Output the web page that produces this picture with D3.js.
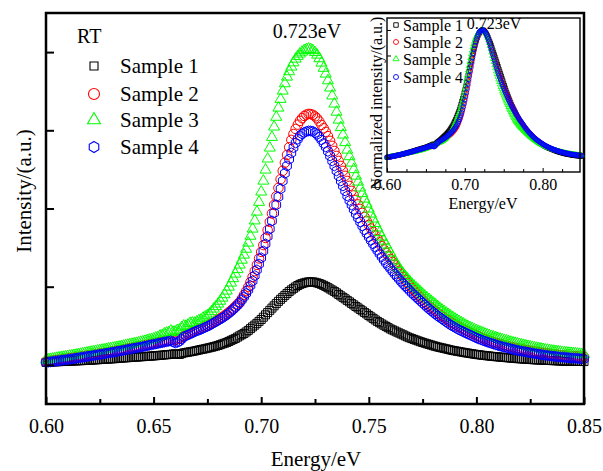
<!DOCTYPE html>
<html><head><meta charset="utf-8">
<script src="https://cdn.jsdelivr.net/npm/d3@7"></script>
<style>
body{margin:0;background:#fff}
svg{display:block}
text{font-family:"Liberation Serif","Times New Roman",serif;fill:#000}
</style>
</head><body>
<svg id="chart" width="603" height="471"></svg>
<script>
// ---------- data ----------
const energyStart = 0.600, energyStep = 0.001, nPoints = 251;
const energies = d3.range(nPoints).map(i => +(energyStart + i * energyStep).toFixed(3));

const sample1 = [2.6,2.7,2.8,3.0,3.1,3.2,3.3,3.4,3.5,3.6,
3.7,3.8,3.9,4.0,4.1,4.2,4.3,4.4,4.5,4.6,
4.7,4.85,5.0,5.15,5.3,5.45,5.6,5.75,5.9,6.0,
6.1,6.25,6.4,6.6,6.8,6.95,7.1,7.25,7.4,7.55,
7.7,7.85,8.0,8.15,8.3,8.45,8.6,8.75,8.9,9.05,
9.2,9.4,9.6,9.8,10.0,10.2,10.4,10.6,10.8,11.1,
11.3,11.0,10.7,11.5,12.3,12.6,13.0,13.4,13.8,14.2,
14.7,15.2,15.7,16.1,16.6,17.1,17.6,18.1,18.7,19.3,
19.9,20.7,21.5,22.2,23.0,24.0,25.1,26.1,27.1,28.4,
29.7,30.9,32.2,33.7,35.3,37.1,38.9,40.7,42.5,44.5,
46.5,48.8,51.2,53.5,55.8,58.1,60.4,62.7,65.0,67.1,
69.1,71.1,73.1,75.0,76.7,78.3,79.8,81.2,82.4,83.2,
83.9,84.5,84.9,85.0,84.9,84.5,83.9,83.2,82.4,81.4,
80.3,79.0,77.7,76.5,75.2,73.7,72.1,70.6,69.1,67.6,
66.0,64.5,62.9,61.4,59.8,58.3,56.8,55.3,53.7,52.2,
50.6,49.1,47.6,46.0,44.5,43.2,41.9,40.6,39.4,38.1,
36.8,35.8,34.8,33.7,32.7,31.7,30.7,29.6,28.6,27.7,
26.9,26.1,25.3,24.5,23.7,23.0,22.3,21.6,21.0,20.3,
19.6,19.0,18.4,17.9,17.4,16.9,16.4,15.8,15.3,14.8,
14.4,14.0,13.6,13.2,12.8,12.4,12.1,11.7,11.4,11.0,
10.7,10.4,10.1,9.8,9.6,9.3,9.1,8.8,8.6,8.4,
8.2,8.0,7.8,7.6,7.4,7.2,7.0,6.8,6.6,6.4,
6.3,6.1,6.0,5.8,5.7,5.5,5.4,5.2,5.1,5.0,
4.9,4.8,4.7,4.6,4.5,4.4,4.3,4.2,4.1,4.0,
3.9,3.85,3.8,3.75,3.7,3.65,3.6,3.55,3.5,3.45,
3.4];

const sample2 = [3.6,3.85,4.1,4.4,4.7,5.0,5.3,5.6,5.9,6.2,
6.5,6.8,7.1,7.45,7.8,8.15,8.5,8.85,9.2,9.55,
9.9,10.25,10.6,10.95,11.3,11.65,12.0,12.4,12.8,13.15,
13.5,13.9,14.3,14.7,15.1,15.5,15.9,16.35,16.8,17.2,
17.6,18.0,18.4,18.8,19.2,19.65,20.1,20.6,21.1,21.55,
22.0,22.45,22.9,23.35,23.8,24.25,24.7,25.15,25.6,25.6,
25.5,26.2,27.0,28.3,29.6,30.6,31.7,32.7,33.7,34.8,
35.8,36.5,37.3,38.3,39.4,40.4,41.4,42.7,44.0,45.2,
46.5,47.8,49.1,50.6,52.2,53.9,55.7,57.7,59.8,62.0,
64.4,67.8,71.6,75.5,79.8,84.7,90.0,95.9,102.3,108.9,
115.6,122.6,129.9,137.9,146.3,154.9,163.7,172.4,181.1,189.9,
198.5,206.8,214.8,222.7,230.2,236.2,241.4,245.8,249.6,252.4,
254.7,256.0,256.8,256.6,255.8,254.2,252.2,249.1,245.5,242.1,
238.4,234.0,229.2,224.1,218.9,213.8,208.7,203.6,198.5,193.4,
188.2,183.1,178.0,173.4,168.8,164.2,159.6,155.5,151.4,147.3,
143.2,139.6,136.1,132.5,128.9,125.3,121.7,118.1,114.6,111.5,
108.4,105.3,102.3,99.2,96.2,93.1,90.0,86.9,83.9,81.3,
78.8,76.2,73.7,71.4,69.1,66.7,64.4,62.4,60.4,58.6,
56.8,55.0,53.2,51.6,50.1,48.6,47.1,45.5,44.0,42.7,
41.4,40.1,38.9,37.6,36.3,35.3,34.3,33.2,32.2,31.2,
30.2,29.1,28.1,27.2,26.4,25.6,24.8,24.0,23.3,22.6,
22.0,21.4,20.8,20.2,19.6,19.0,18.5,18.0,17.5,17.0,
16.6,16.1,15.7,15.2,14.8,14.4,14.0,13.6,13.3,12.9,
12.6,12.3,12.0,11.7,11.4,11.1,10.8,10.55,10.3,10.1,
9.9,9.7,9.5,9.3,9.1,8.95,8.8,8.65,8.5,8.35,
8.2];

const sample3 = [5.1,5.45,5.8,6.15,6.5,6.9,7.3,7.65,8.0,8.35,
8.7,9.05,9.4,9.8,10.2,10.6,11.0,11.45,11.9,12.3,
12.7,13.1,13.5,13.9,14.3,14.7,15.1,15.55,16.0,16.4,
16.8,17.2,17.6,18.0,18.4,18.85,19.3,19.8,20.3,20.75,
21.2,21.7,22.2,22.7,23.2,23.75,24.3,24.9,25.5,26.0,
26.6,27.6,28.1,29.6,30.2,31.8,32.7,33.2,34.8,33.6,
33.8,35.3,35.8,38.2,39.9,39.6,40.9,42.6,43.0,42.8,
44.0,45.4,46.0,47.9,49.1,50.5,52.2,54.6,57.3,59.8,
62.4,65.3,68.5,72.0,75.7,79.7,83.9,88.4,93.1,97.7,
102.3,107.3,112.5,118.5,124.8,131.8,139.1,147.5,156.5,166.5,
177.0,188.2,199.5,210.8,222.0,232.9,243.5,253.5,262.9,271.8,
280.3,287.8,294.6,300.1,304.9,309.2,313.0,315.8,318.2,320.1,
321.7,322.7,323.3,322.8,321.7,319.7,317.1,313.4,308.9,303.6,
297.7,290.8,283.4,275.3,267.0,258.7,250.6,242.9,235.3,227.6,
219.9,213.2,206.6,199.9,193.3,187.2,181.1,175.4,169.8,164.7,
159.6,154.5,149.4,144.8,140.2,135.5,130.9,126.8,122.8,118.7,
114.6,110.5,106.4,102.8,99.2,96.1,93.1,90.5,88.0,85.4,
82.9,80.8,78.8,76.7,74.7,72.6,70.6,68.8,67.0,65.2,
63.4,61.6,59.8,58.0,56.3,54.7,53.2,51.6,50.1,48.6,
47.1,45.8,44.5,43.2,41.9,40.6,39.4,38.3,37.3,36.3,
35.3,34.4,33.5,32.6,31.7,30.9,30.1,29.3,28.6,27.9,
27.2,26.5,25.9,25.2,24.6,23.9,23.3,22.7,22.2,21.6,
21.1,20.6,20.1,19.5,19.0,18.5,18.1,17.6,17.2,16.8,
16.4,15.9,15.5,15.1,14.8,14.4,14.1,13.8,13.5,13.2,
12.9,12.6,12.4,12.1,11.9,11.7,11.5,11.2,11.0,10.8,
10.7];

const sample4 = [2.6,2.85,3.1,3.4,3.7,4.0,4.3,4.6,4.9,5.2,
5.5,5.8,6.1,6.45,6.8,7.15,7.5,7.85,8.2,8.55,
8.9,9.25,9.6,9.95,10.3,10.65,11.0,11.4,11.8,12.15,
12.5,12.9,13.3,13.7,14.1,14.5,14.9,15.35,15.8,16.2,
16.6,17.0,17.4,17.8,18.2,18.65,19.1,19.6,20.1,20.55,
21.0,21.45,21.9,22.35,22.8,23.25,23.7,24.15,24.6,23.5,
22.5,23.0,24.0,26.3,28.6,29.7,30.7,31.7,32.7,33.8,
34.8,35.5,36.3,37.4,38.4,39.4,40.4,41.7,43.0,44.2,
45.5,46.8,48.1,49.6,51.2,52.9,54.7,56.7,58.8,61.0,
63.4,66.4,69.6,73.0,76.7,81.1,85.9,91.3,97.2,103.2,
109.5,116.5,123.8,131.4,139.1,147.3,155.5,163.7,171.9,180.1,
188.2,196.0,203.6,210.5,216.9,222.3,227.1,231.0,234.3,236.3,
237.8,238.8,239.4,239.3,238.9,237.5,235.8,233.2,230.2,226.7,
223.0,218.5,213.8,208.7,203.6,198.5,193.3,188.2,183.1,178.0,
172.9,168.3,163.7,159.1,154.5,150.4,146.3,142.2,138.1,134.5,
130.9,127.3,123.8,120.4,117.1,113.8,110.5,107.4,104.3,101.5,
98.7,95.9,93.1,90.5,88.0,85.4,82.9,80.6,78.3,76.0,
73.7,71.6,69.6,67.5,65.5,63.4,61.4,59.3,57.3,55.5,
53.7,51.9,50.1,48.6,47.1,45.5,44.0,42.4,40.9,39.6,
38.4,37.1,35.8,34.8,33.8,32.7,31.7,30.7,29.7,28.6,
27.6,26.7,25.9,25.0,24.2,23.4,22.7,22.0,21.3,20.6,
19.9,19.3,18.7,18.1,17.6,17.0,16.5,15.9,15.4,14.9,
14.5,14.0,13.6,13.2,12.8,12.4,12.0,11.6,11.3,10.9,
10.5,10.2,9.9,9.6,9.3,9.0,8.8,8.5,8.3,8.1,
7.9,7.7,7.5,7.3,7.1,6.95,6.8,6.6,6.4,6.25,
6.1];

const seriesNames  = ["Sample 1", "Sample 2", "Sample 3", "Sample 4"];
const seriesValues = [sample1, sample2, sample3, sample4];
const seriesColors = ["#000000", "#ff0000", "#00ff00", "#0000ff"];
const seriesShapes = ["square", "circle", "triangle", "hexagon"];

const xTicks = [0.60, 0.65, 0.70, 0.75, 0.80, 0.85];
const xMinorTicks = [0.625, 0.675, 0.725, 0.775, 0.825];
const yTicks = [0, 80, 160, 240, 320];
const insetXTicks = [0.60, 0.70, 0.80];
const insetXMinorTicks = [0.625, 0.65, 0.675, 0.725, 0.75, 0.775, 0.825];
const insetYTicks = [0, 0.2, 0.4, 0.6, 0.8, 1.0];
const peakLabel = "0.723eV";
const conditionLabel = "RT";

// ---------- helpers ----------
function shapePath(shape, s) {
  if (shape === "square") return d3.symbol(d3.symbolSquare, s * s)();
  if (shape === "circle") return d3.symbol(d3.symbolCircle, Math.PI * s * s / 4)();
  if (shape === "triangle") return d3.symbol(d3.symbolTriangle, s * s * Math.sqrt(3) / 4)();
  const r = s / 2;
  const pts = d3.range(6).map(k => {
    const a = -Math.PI / 2 + k * Math.PI / 3;
    return [r * Math.cos(a), r * Math.sin(a)];
  });
  return "M" + pts.map(p => p[0].toFixed(2) + "," + p[1].toFixed(2)).join("L") + "Z";
}
const markerSize = {square: 8, circle: 9.5, triangle: 11, hexagon: 10};
const insetMarkerSize = {square: 4, circle: 4.2, triangle: 5, hexagon: 4.5};

const svg = d3.select("#chart");

// ---------- main plot ----------
const L = 46, R = 584, T = 13, B = 404;
const x = d3.scaleLinear([0.60, 0.85], [L, R]);
const y = d3.scaleLinear([-40, 360], [B, T]);

const gData = svg.append("g");
seriesValues.forEach((vals, si) => {
  gData.append("g").selectAll("path").data(energies.map((e, i) => [e, vals[i]]))
    .join("path")
    .attr("d", shapePath(seriesShapes[si], markerSize[seriesShapes[si]]))
    .attr("transform", d => `translate(${x(d[0])},${y(d[1])})`)
    .attr("fill", "none")
    .attr("stroke", seriesColors[si])
    .attr("stroke-width", 1);
});

// axes
const xAxis = svg.append("g").attr("transform", `translate(0,${B})`)
  .call(d3.axisBottom(x).tickValues(xTicks).tickSize(-7).tickPadding(15).tickFormat(d3.format(".2f")));
const xMinor = svg.append("g").attr("transform", `translate(0,${B})`)
  .call(d3.axisBottom(x).tickValues(xMinorTicks).tickSize(-5).tickFormat(""));
const yAxis = svg.append("g").attr("transform", `translate(${L},0)`)
  .call(d3.axisLeft(y).tickValues(yTicks).tickSize(-8).tickFormat(""));
[xAxis, xMinor, yAxis].forEach(g => {
  g.select(".domain").remove();
  g.selectAll("line").attr("stroke", "#000").attr("stroke-width", 2);
  g.selectAll("text").attr("font-size", 20).attr("font-family", '"Liberation Serif",serif').attr("fill", "#000");
});

svg.append("rect").attr("x", L).attr("y", T).attr("width", R - L).attr("height", B - T)
  .attr("fill", "none").attr("stroke", "#000").attr("stroke-width", 2.5);

svg.append("text").attr("x", 316).attr("y", 466).attr("text-anchor", "middle")
  .attr("font-size", 21).text("Energy/eV");
svg.append("text").attr("transform", "translate(31,191) rotate(-90)").attr("text-anchor", "middle")
  .attr("font-size", 21).text("Intensity/(a.u.)");

svg.append("text").attr("x", 307).attr("y", 38).attr("text-anchor", "middle")
  .attr("font-size", 20).text(peakLabel);
svg.append("text").attr("x", 77).attr("y", 43).attr("font-size", 20).text(conditionLabel);

// legend
const legRows = [66, 94, 120, 147];
seriesNames.forEach((name, i) => {
  svg.append("path").attr("d", shapePath(seriesShapes[i], [8, 11, 13, 11][i]))
    .attr("transform", `translate(94,${legRows[i]})`)
    .attr("fill", "none").attr("stroke", seriesColors[i]).attr("stroke-width", 1.1);
  svg.append("text").attr("x", 120).attr("y", legRows[i] + 7).attr("font-size", 21).text(name);
});

// ---------- inset ----------
const iL = 387, iR = 580, iT = 18, iB = 172;
const xi = d3.scaleLinear([0.60, 0.848], [iL, iR]);
const yi = d3.scaleLinear([-0.114, 1.094], [iB, iT]);

svg.append("rect").attr("x", iL).attr("y", iT).attr("width", iR - iL).attr("height", iB - iT).attr("fill", "#fff");

const gInset = svg.append("g");
seriesValues.forEach((vals, si) => {
  const lo = d3.min(vals), hi = d3.max(vals);
  gInset.append("g").selectAll("path").data(energies.map((e, i) => [e, (vals[i] - lo) / (hi - lo)]))
    .join("path")
    .attr("d", shapePath(seriesShapes[si] === "hexagon" ? "circle" : seriesShapes[si], insetMarkerSize[seriesShapes[si]]))
    .attr("transform", d => `translate(${xi(d[0])},${yi(d[1])})`)
    .attr("fill", "none")
    .attr("stroke", seriesColors[si])
    .attr("stroke-width", 0.8);
});

const ixAxis = svg.append("g").attr("transform", `translate(0,${iB})`)
  .call(d3.axisBottom(xi).tickValues(insetXTicks).tickSize(-4).tickPadding(7).tickFormat(d3.format(".2f")));
const ixMinor = svg.append("g").attr("transform", `translate(0,${iB})`)
  .call(d3.axisBottom(xi).tickValues(insetXMinorTicks).tickSize(-3).tickFormat(""));
const iyAxis = svg.append("g").attr("transform", `translate(${iL},0)`)
  .call(d3.axisLeft(yi).tickValues(insetYTicks).tickSize(-4).tickFormat(""));
[ixAxis, ixMinor, iyAxis].forEach(g => {
  g.select(".domain").remove();
  g.selectAll("line").attr("stroke", "#000").attr("stroke-width", 1);
  g.selectAll("text").attr("font-size", 16).attr("font-family", '"Liberation Serif",serif').attr("fill", "#000");
});
svg.append("rect").attr("x", iL).attr("y", iT).attr("width", iR - iL).attr("height", iB - iT)
  .attr("fill", "none").attr("stroke", "#000").attr("stroke-width", 1.4);

svg.append("text").attr("x", 483).attr("y", 209).attr("text-anchor", "middle")
  .attr("font-size", 16).text("Energy/eV");
svg.append("text").attr("transform", "translate(382,103) rotate(-90)").attr("text-anchor", "middle")
  .attr("font-size", 16).text("Normalized intensity/(a.u.)");
svg.append("text").attr("x", 494).attr("y", 29).attr("text-anchor", "middle")
  .attr("font-size", 16).text(peakLabel);

const iLegRows = [25, 42, 59, 77];
seriesNames.forEach((name, i) => {
  svg.append("path").attr("d", shapePath(seriesShapes[i] === "hexagon" ? "circle" : seriesShapes[i], [4.5, 5, 6, 5][i]))
    .attr("transform", `translate(396,${iLegRows[i]})`)
    .attr("fill", "none").attr("stroke", seriesColors[i]).attr("stroke-width", 0.9);
  svg.append("text").attr("x", 403).attr("y", iLegRows[i] + 6).attr("font-size", 16).text(name);
});
</script>
</body></html>
